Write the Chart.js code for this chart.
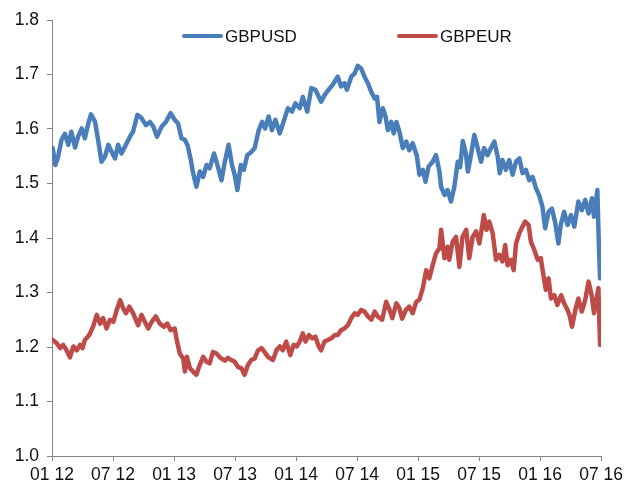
<!DOCTYPE html>
<html><head><meta charset="utf-8">
<script src="https://cdn.jsdelivr.net/npm/chart.js@4.4.0/dist/chart.umd.min.js"></script>
<style>html,body{margin:0;padding:0;background:#fff;}canvas{display:block;}</style>
</head><body>
<canvas id="c" width="627" height="484"></canvas>
<script>
const seriesNames = ['GBPUSD', 'GBPEUR'];
const tickLabels = ['01 12','07 12','01 13','07 13','01 14','07 14','01 15','07 15','01 16','07 16'];

const usdDates = ['2012-01-03','2012-01-11','2012-01-19','2012-01-29','2012-02-09','2012-02-19','2012-02-28','2012-03-09','2012-03-18','2012-03-29','2012-04-08','2012-04-18','2012-04-26','2012-05-08','2012-05-17','2012-05-27','2012-06-07','2012-06-17','2012-06-27','2012-07-07','2012-07-16','2012-07-26','2012-08-09','2012-08-21','2012-08-30','2012-09-13','2012-09-25','2012-10-08','2012-10-20','2012-10-30','2012-11-11','2012-11-24','2012-12-07','2012-12-21','2013-01-03','2013-01-13','2013-01-23','2013-02-03','2013-02-11','2013-02-20','2013-02-27','2013-03-07','2013-03-17','2013-03-27','2013-04-07','2013-04-16','2013-04-29','2013-05-09','2013-05-21','2013-05-31','2013-06-12','2013-06-22','2013-06-30','2013-07-08','2013-07-18','2013-07-27','2013-08-07','2013-08-19','2013-08-29','2013-09-11','2013-09-21','2013-09-30','2013-10-10','2013-10-20','2013-10-30','2013-11-13','2013-11-24','2013-12-07','2013-12-19','2013-12-29','2014-01-12','2014-01-21','2014-02-04','2014-02-16','2014-02-28','2014-03-15','2014-03-25','2014-04-07','2014-04-20','2014-05-04','2014-05-14','2014-05-24','2014-05-31','2014-06-14','2014-06-24','2014-07-03','2014-07-13','2014-07-23','2014-08-03','2014-08-13','2014-08-23','2014-08-30','2014-09-07','2014-09-17','2014-09-25','2014-10-02','2014-10-12','2014-10-19','2014-10-27','2014-11-06','2014-11-16','2014-11-26','2014-12-05','2014-12-15','2014-12-27','2015-01-05','2015-01-15','2015-01-23','2015-02-02','2015-02-14','2015-02-24','2015-03-04','2015-03-09','2015-03-19','2015-03-28','2015-04-08','2015-04-18','2015-04-28','2015-05-05','2015-05-13','2015-05-22','2015-05-28','2015-06-07','2015-06-17','2015-06-27','2015-07-07','2015-07-16','2015-07-26','2015-08-06','2015-08-16','2015-08-26','2015-09-02','2015-09-10','2015-09-20','2015-09-30','2015-10-10','2015-10-20','2015-10-30','2015-11-09','2015-11-19','2015-11-29','2015-12-09','2015-12-19','2015-12-28','2016-01-08','2016-01-16','2016-01-26','2016-02-06','2016-02-15','2016-02-25','2016-03-02','2016-03-12','2016-03-22','2016-04-02','2016-04-12','2016-04-24','2016-05-04','2016-05-14','2016-05-24','2016-06-04','2016-06-10','2016-06-20','2016-06-24','2016-06-28'];
const gbpusd = [1.565,1.534,1.549,1.580,1.591,1.571,1.595,1.566,1.586,1.601,1.583,1.610,1.627,1.613,1.580,1.540,1.549,1.571,1.558,1.546,1.571,1.555,1.571,1.586,1.595,1.626,1.620,1.607,1.613,1.604,1.586,1.604,1.613,1.629,1.617,1.610,1.583,1.580,1.570,1.545,1.520,1.494,1.522,1.512,1.534,1.528,1.555,1.534,1.506,1.540,1.571,1.534,1.516,1.488,1.534,1.525,1.552,1.558,1.565,1.598,1.613,1.601,1.623,1.598,1.617,1.592,1.613,1.638,1.632,1.647,1.638,1.659,1.632,1.675,1.672,1.650,1.662,1.672,1.682,1.696,1.678,1.684,1.672,1.696,1.702,1.716,1.711,1.696,1.684,1.668,1.656,1.659,1.613,1.638,1.623,1.598,1.613,1.592,1.613,1.595,1.565,1.577,1.561,1.574,1.552,1.516,1.525,1.503,1.531,1.540,1.552,1.522,1.494,1.479,1.488,1.467,1.494,1.540,1.530,1.578,1.555,1.522,1.552,1.589,1.565,1.540,1.565,1.552,1.565,1.577,1.549,1.519,1.543,1.525,1.543,1.516,1.540,1.546,1.519,1.525,1.506,1.512,1.491,1.479,1.457,1.418,1.448,1.454,1.430,1.390,1.424,1.448,1.424,1.442,1.421,1.467,1.451,1.470,1.445,1.473,1.439,1.488,1.396,1.326];

const eurDates = ['2012-01-03','2012-01-15','2012-01-25','2012-02-04','2012-02-14','2012-02-24','2012-03-04','2012-03-14','2012-03-24','2012-04-01','2012-04-08','2012-04-21','2012-05-02','2012-05-13','2012-05-23','2012-06-02','2012-06-12','2012-06-22','2012-07-02','2012-07-12','2012-07-22','2012-08-01','2012-08-09','2012-08-19','2012-08-30','2012-09-15','2012-09-25','2012-10-05','2012-10-15','2012-10-25','2012-11-07','2012-11-19','2012-12-01','2012-12-11','2012-12-21','2013-01-03','2013-01-10','2013-01-18','2013-01-28','2013-02-03','2013-02-09','2013-02-18','2013-02-27','2013-03-07','2013-03-15','2013-03-27','2013-04-07','2013-04-16','2013-04-26','2013-05-06','2013-05-18','2013-05-31','2013-06-10','2013-06-20','2013-06-30','2013-07-10','2013-07-20','2013-07-29','2013-08-09','2013-08-19','2013-08-29','2013-09-09','2013-09-19','2013-09-28','2013-10-08','2013-10-23','2013-11-03','2013-11-13','2013-11-22','2013-12-02','2013-12-14','2013-12-24','2014-01-03','2014-01-12','2014-01-21','2014-01-29','2014-02-09','2014-02-19','2014-02-28','2014-03-08','2014-03-15','2014-03-25','2014-04-05','2014-04-15','2014-04-25','2014-05-04','2014-05-14','2014-05-24','2014-06-04','2014-06-14','2014-06-24','2014-07-03','2014-07-13','2014-07-23','2014-08-03','2014-08-13','2014-08-23','2014-09-02','2014-09-15','2014-09-27','2014-10-07','2014-10-15','2014-10-27','2014-11-06','2014-11-14','2014-11-25','2014-12-05','2014-12-15','2014-12-25','2015-01-05','2015-01-15','2015-01-25','2015-02-04','2015-02-14','2015-02-24','2015-03-04','2015-03-09','2015-03-19','2015-03-28','2015-04-03','2015-04-13','2015-04-23','2015-05-03','2015-05-12','2015-05-23','2015-06-02','2015-06-12','2015-06-22','2015-07-02','2015-07-10','2015-07-15','2015-07-23','2015-08-01','2015-08-11','2015-08-21','2015-08-31','2015-09-10','2015-09-18','2015-09-25','2015-10-05','2015-10-13','2015-10-20','2015-10-30','2015-11-09','2015-11-17','2015-11-27','2015-12-04','2015-12-14','2015-12-24','2016-01-03','2016-01-10','2016-01-18','2016-01-26','2016-02-03','2016-02-13','2016-02-22','2016-03-03','2016-03-12','2016-03-22','2016-03-29','2016-04-05','2016-04-15','2016-04-24','2016-05-04','2016-05-14','2016-05-24','2016-06-04','2016-06-10','2016-06-17','2016-06-23','2016-06-28'];
const gbpeur = [1.213,1.207,1.198,1.204,1.194,1.181,1.201,1.194,1.204,1.198,1.213,1.222,1.237,1.259,1.243,1.253,1.234,1.250,1.246,1.268,1.286,1.271,1.262,1.274,1.262,1.240,1.259,1.246,1.234,1.246,1.256,1.243,1.237,1.243,1.231,1.234,1.210,1.188,1.179,1.155,1.182,1.161,1.155,1.149,1.164,1.182,1.173,1.170,1.191,1.188,1.180,1.175,1.180,1.176,1.173,1.163,1.161,1.149,1.167,1.176,1.179,1.194,1.198,1.191,1.182,1.176,1.194,1.201,1.194,1.210,1.185,1.204,1.201,1.210,1.225,1.210,1.222,1.216,1.219,1.201,1.194,1.210,1.213,1.216,1.222,1.222,1.231,1.234,1.240,1.253,1.262,1.259,1.268,1.265,1.256,1.250,1.265,1.256,1.250,1.283,1.268,1.253,1.280,1.271,1.252,1.268,1.274,1.262,1.282,1.287,1.308,1.341,1.326,1.350,1.372,1.381,1.415,1.363,1.384,1.360,1.393,1.402,1.347,1.402,1.415,1.363,1.402,1.412,1.390,1.421,1.442,1.415,1.430,1.409,1.360,1.369,1.357,1.387,1.350,1.360,1.341,1.390,1.409,1.421,1.430,1.424,1.393,1.378,1.360,1.363,1.335,1.305,1.326,1.289,1.295,1.277,1.295,1.280,1.268,1.256,1.237,1.268,1.289,1.265,1.286,1.320,1.292,1.262,1.286,1.308,1.204];

function toMonths(s) {
  const p = s.split('-').map(Number);
  return (p[0] - 2012) * 12 + (p[1] - 1) + (p[2] - 1) / 30;
}
function toPoints(dates, vals) {
  return dates.map((d, i) => ({ x: toMonths(d), y: vals[i] }));
}

const FONT = '"Liberation Sans", Arial, sans-serif';
const colors = ['#4A7EBB', '#BE4B48'];
const legendX = [183, 398];

const legendPlugin = {
  id: 'customLegend',
  afterDraw(chart) {
    const ctx = chart.ctx;
    ctx.save();
    chart.data.datasets.forEach((ds, i) => {
      const x = legendX[i], y = 36;
      ctx.strokeStyle = ds.borderColor;
      ctx.lineWidth = 4;
      ctx.lineCap = 'round';
      ctx.beginPath(); ctx.moveTo(x + 1, y); ctx.lineTo(x + 38, y); ctx.stroke();
      ctx.fillStyle = '#111';
      ctx.font = '17px ' + FONT;
      ctx.textBaseline = 'middle';
      ctx.textAlign = 'left';
      ctx.fillText(ds.label, x + 42, y + 1);
    });
    ctx.restore();
  }
};

new Chart(document.getElementById('c'), {
  type: 'line',
  data: {
    datasets: [
      { label: seriesNames[0], data: toPoints(usdDates, gbpusd), borderColor: colors[0], backgroundColor: colors[0] },
      { label: seriesNames[1], data: toPoints(eurDates, gbpeur), borderColor: colors[1], backgroundColor: colors[1] }
    ]
  },
  options: {
    responsive: false,
    animation: false,
    devicePixelRatio: 1,
    layout: { padding: { top: 20, right: 25, left: 0, bottom: 0 } },
    elements: {
      line: { borderWidth: 4.5, tension: 0, borderJoinStyle: 'round', borderCapStyle: 'round' },
      point: { radius: 0, hoverRadius: 0 }
    },
    plugins: { legend: { display: false }, tooltip: { enabled: false } },
    scales: {
      x: {
        type: 'linear', min: 0, max: 54,
        afterFit(s) { s.height = 28; },
        afterBuildTicks(s) { s.ticks = tickLabels.map((t, i) => ({ value: i * 6 })); },
        ticks: {
          autoSkip: false, maxRotation: 0, padding: 4,
          color: '#111', font: { family: FONT, size: 17.5 },
          callback: (v) => tickLabels[Math.round(v / 6)]
        },
        grid: { display: true, drawOnChartArea: false, drawTicks: true, tickLength: 5, color: '#868686' },
        border: { display: true, color: '#868686', width: 1 }
      },
      y: {
        min: 1.0, max: 1.8,
        afterFit(s) { s.width = 52; },
        ticks: {
          stepSize: 0.1, padding: 8,
          color: '#111', font: { family: FONT, size: 17.5 },
          callback: (v) => Number(v).toFixed(1)
        },
        grid: { display: true, drawOnChartArea: false, drawTicks: true, tickLength: 5, color: '#868686' },
        border: { display: true, color: '#868686', width: 1 }
      }
    }
  },
  plugins: [legendPlugin]
});
</script>
</body></html>
